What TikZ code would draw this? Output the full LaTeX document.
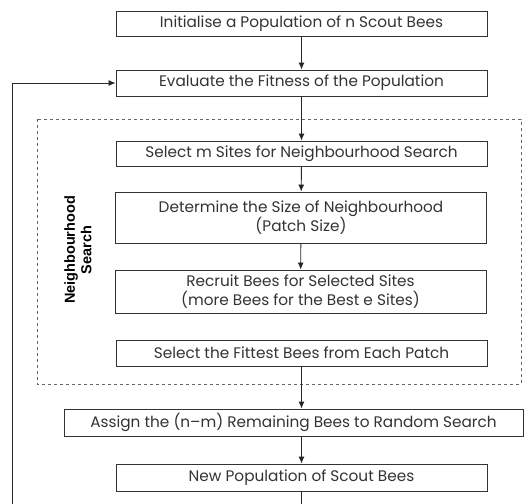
\documentclass[tikz,border=0pt]{standalone}
\usepackage{fontspec}
\setmainfont{Poppins}
\newfontfamily\labelfont{Liberation Sans}
\usepackage{tikz}
\usetikzlibrary{arrows.meta}

\begin{document}
\begin{tikzpicture}[x=1pt,y=-1pt,>={Latex[length=7pt,width=6pt]}]
		\tikzstyle{StepBox}=[draw=black!80,line width=0.9pt,inner sep=0pt,
			minimum width=371pt,align=center,text=black!80,
			font=\fontsize{15.3}{19}\selectfont]
		\tikzstyle{Flow}=[->,line width=0.9pt,black!85]
		\clip (0,0) rectangle (529,503);
		% neighbourhood search frame
		\draw[dashed,black!60,line width=0.7pt] (37,119) rectangle (521,384);
		\node[font=\labelfont\bfseries\fontsize{14.5}{16.5}\selectfont,
			rotate=90,align=center] (NS) at (78,250) {Neighbourhood\\Search};
		\node[StepBox,minimum height=25pt] (Init) at (301.5,23.5) {Initialise a Population of n Scout Bees};
		\node[StepBox,minimum height=26pt] (Eval) at (301.5,83) {Evaluate the Fitness of the Population};
		\node[StepBox,minimum height=25pt] (Sel) at (301.5,153.5) {Select m Sites for Neighbourhood Search};
		\node[StepBox,minimum height=51pt] (Det) at (301,217.5) {Determine the Size of Neighbourhood\\(Patch Size)};
		\node[StepBox,minimum height=43pt] (Rec) at (300.5,291.5) {Recruit Bees for Selected Sites\\(more Bees for the Best e Sites)};
		\node[StepBox,minimum height=26pt] (Fit) at (301.5,353) {Select the Fittest Bees from Each Patch};
		\node[StepBox,minimum height=27pt,minimum width=459pt] (Asg) at (293.5,422.5) {Assign the (n--m) Remaining Bees to Random Search};
		\node[StepBox,minimum height=27pt] (New) at (301.5,477.5) {New Population of Scout Bees};
		%  loop corners, below the visible part
		\coordinate (LoopB) at (301.5,520);
		\coordinate (LoopL) at (12,520);
		\draw[Flow] (Init) -- (Eval);
		\draw[Flow] (Eval) -- (Sel);
		\draw[Flow] (Sel) -- (Det);
		\draw[Flow] (Det) -- (Rec);
		\draw[Flow] (Fit.south) -- (Fit.south |- Asg.north);
		\draw[Flow] (Asg.south -| New.north) -- (New.north);
		\draw[Flow] (New.south) -- (LoopB) -- (LoopL) |- (Eval.west);
	\end{tikzpicture}
\end{document}
